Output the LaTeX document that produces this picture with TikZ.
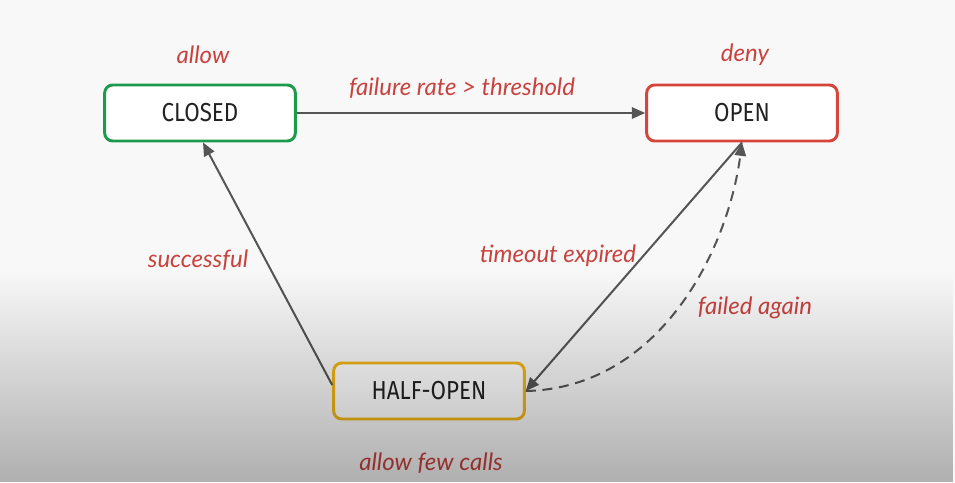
\documentclass[tikz,border=0pt]{standalone}
\usepackage{fontspec}
\setmainfont{Lato}
\newfontfamily\boxfont[FakeStretch=0.86]{Fira Sans}
\newfontfamily\handfont{Lato}
\usetikzlibrary{arrows.meta,fadings,calc}
\definecolor{bg}{HTML}{F8F8F8}
\definecolor{txt}{HTML}{222222}
\definecolor{lbl}{HTML}{C8423E}
\definecolor{ln}{HTML}{555555}
\definecolor{cgreen}{HTML}{1E9A4C}
\definecolor{cred}{HTML}{D6453C}
\definecolor{corange}{HTML}{F2B516}
\tikzfading[name=bottomdark, top color=transparent!100, bottom color=transparent!0]
\begin{document}
\begin{tikzpicture}[x=0.75pt,y=-0.75pt,
  state/.style={draw, line width=2.2pt, rounded corners=6pt, fill=white,
    minimum width=143pt, minimum height=42pt, inner sep=0pt,
    font=\boxfont\fontsize{19.5}{22}\selectfont, text=txt},
  hand/.style={font=\handfont\itshape\fontsize{18}{20}\selectfont, text=lbl, inner sep=0pt},
  arr/.style={-{Triangle[length=10pt,width=8.5pt]}, line width=1.5pt, draw=ln},
]
\useasboundingbox (0,0) rectangle (955,482);
\fill[bg] (0,0) rectangle (955,482);

\node[state, draw=cgreen] (closed) at (200,113) {CLOSED};
\node[state, draw=cred] (open) at (742,113) {OPEN};
\node[state, draw=corange] (half) at (429,391) {HALF-OPEN};

\node[hand] (lallow) at (203,55) {allow};
\node[hand] (ldeny) at (745,55) {deny};
\node[hand] (lfail) at (462,88) {failure rate > threshold};
\node[hand] (lsucc) at (198,260) {successful};
\node[hand] (ltime) at (558,256) {timeout expired};
\node[hand] (lagain) at (755,308) {failed again};
\node[hand] (lfew) at (431,463) {allow few calls};

\draw[arr] (closed.east) -- (open.west);
\draw[arr] ($(half.west)+(0,-6)$) -- ($(closed.south)+(3,0)$);
\draw[arr] (open.south) -- (half.east);
\draw[arr, dash pattern=on 7.5pt off 5pt] (half.east) .. controls (660,388) and (728,250) .. (open.south);

\fill[black, fill opacity=0.29, path fading=bottomdark] (0,270) rectangle (955,482);
\end{tikzpicture}
\end{document}
